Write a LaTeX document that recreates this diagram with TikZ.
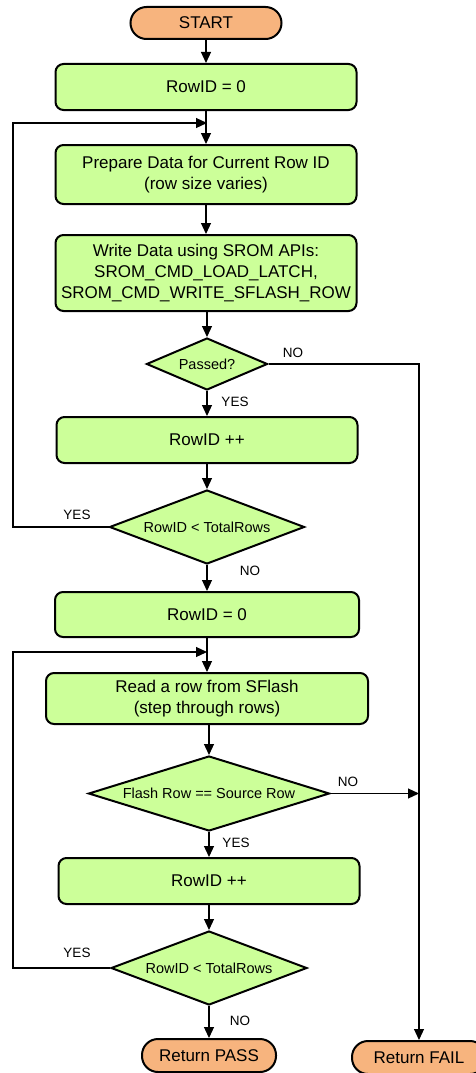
\documentclass[tikz,border=0pt]{standalone}
\usepackage{fontspec}
\setmainfont{Liberation Sans}
\usetikzlibrary{arrows.meta}
\usetikzlibrary{positioning}
\usetikzlibrary{shapes.geometric}

\definecolor{boxgreen}{HTML}{CCFF99}
\definecolor{termorange}{HTML}{F7B47E}

\begin{document}
\begin{tikzpicture}[x=1pt, y=-1pt,
    stepbox/.style={draw, line width=2pt, fill=boxgreen, rounded corners=8pt, align=center,
        minimum width=301pt, minimum height=46pt, inner sep=0pt, font=\fontsize{17}{21}\selectfont},
    term/.style={draw, line width=2pt, fill=termorange, rounded corners=16pt,
        minimum height=32pt, inner sep=0pt, font=\fontsize{17}{21}\selectfont},
    decide/.style={draw, diamond, line width=2pt, fill=boxgreen, inner sep=0pt,
        font=\fontsize{14.5}{17}\selectfont},
    arr/.style={line width=1.2pt, -{Triangle[length=11pt,width=10pt]}},
    wire/.style={line width=1.2pt},
    tag/.style={font=\fontsize{13.5}{16}\selectfont}]
    \useasboundingbox (0,0) rectangle (476,1073);
    \node[term, minimum width=151pt] (start) at (206,23) {START};
    \node[stepbox] (init1) at (206,87) {RowID = 0};
    \node[stepbox, minimum height=59pt] (prep) at (206,174.5) {Prepare Data for Current Row ID\\(row size varies)};
    \node[stepbox, minimum height=76pt] (write) at (206,273) {Write Data using SROM APIs:\\SROM\_CMD\_LOAD\_LATCH,\\SROM\_CMD\_WRITE\_SFLASH\_ROW};
    \node[decide, minimum width=121pt, minimum height=52pt, aspect=2.33] (pass) at (207,364) {Passed?};
    \node[stepbox] (inc1) at (207,440) {RowID ++};
    \node[decide, minimum width=195pt, minimum height=74pt, aspect=2.64] (chk1) at (207,527) {RowID < TotalRows};
    \node[stepbox, minimum width=304pt, minimum height=45pt] (init2) at (207,614.5) {RowID = 0};
    \node[stepbox, minimum width=322pt, minimum height=51pt] (read) at (207,698.5) {Read a row from SFlash\\(step through rows)};
    \node[decide, minimum width=241pt, minimum height=75pt, aspect=3.2] (flash) at (209,793.5) {Flash Row == Source Row};
    \node[stepbox] (inc2) at (209,881) {RowID ++};
    \node[decide, minimum width=196pt, minimum height=74pt, aspect=2.64] (chk2) at (209,968) {RowID < TotalRows};
    \node[term, minimum width=134pt, minimum height=33pt] (passend) at (209,1055.5) {Return PASS};
    \node[term, minimum width=134pt, minimum height=33pt] (failend) at (419,1057.5) {Return FAIL};
    \coordinate (join1) at (207,123);
    \coordinate (rail1) at (13,123);
    \coordinate (join2) at (207,652);
    \coordinate (rail2) at (13,652);
    \draw[arr] (start) -- (init1);
    \draw[arr] (init1) -- (prep);
    \draw[arr] (prep) -- (write);
    \draw[arr] (write.south -| pass.north) -- (pass);
    \draw[arr] (pass) -- (inc1);
    \draw[arr] (inc1) -- (chk1);
    \draw[arr] (chk1) -- (init2);
    \draw[arr] (init2) -- (read);
    \draw[arr] (read.south -| flash.north) -- (flash);
    \draw[arr] (flash) -- (inc2);
    \draw[arr] (inc2) -- (chk2);
    \draw[arr] (chk2) -- (passend);
    \draw[arr] (chk1.west) -| (rail1) -- (join1);
    \draw[arr] (chk2.west) -| (rail2) -- (join2);
    \draw[arr] (pass.east) -| (failend.north);
    \draw[arr] (flash.east) -- (flash.east -| failend.north);
    \node[tag] (no1) at (293,353) {NO};
    \node[tag] (yes1) at (235,402) {YES};
    \node[tag] (yes2) at (77,515) {YES};
    \node[tag] (no2) at (250,571) {NO};
    \node[tag] (no3) at (348,782) {NO};
    \node[tag] (yes3) at (236,843) {YES};
    \node[tag] (yes4) at (77,953) {YES};
    \node[tag] (no4) at (240,1021) {NO};
\end{tikzpicture}
\end{document}
